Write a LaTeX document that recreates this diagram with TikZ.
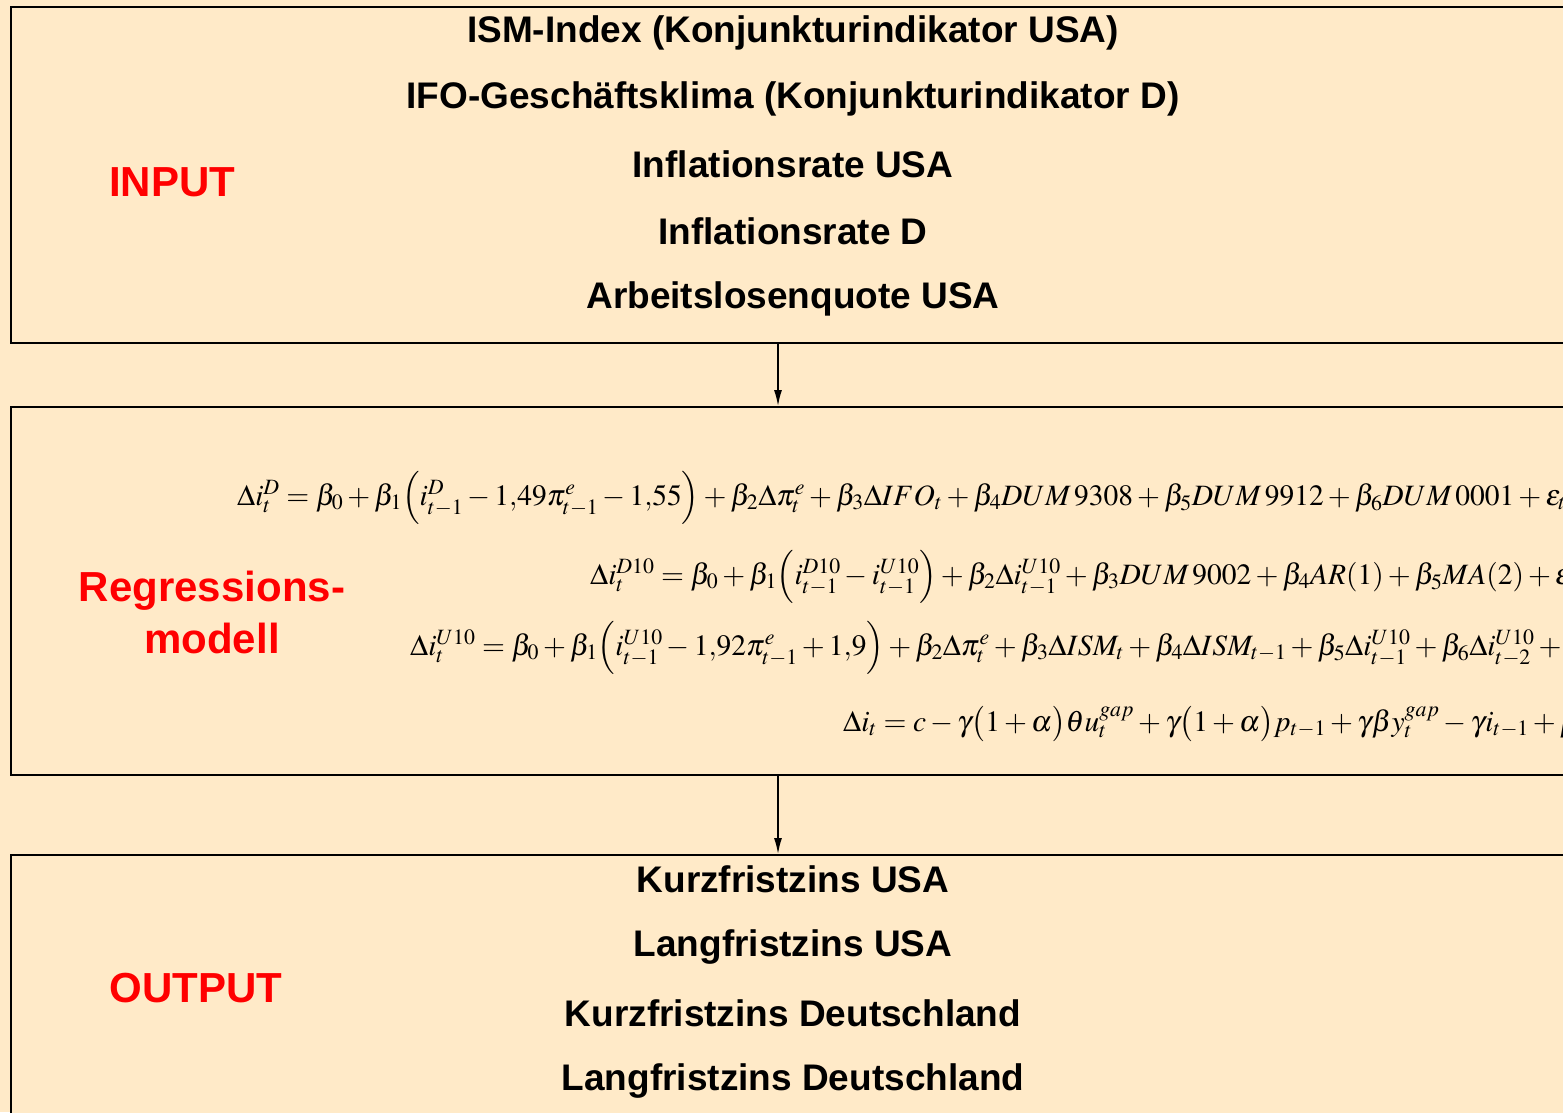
\documentclass[tikz,border=0pt]{standalone}
\usepackage{mathptmx}
\usepackage[no-math]{fontspec}
\setmainfont{Liberation Sans}
\usetikzlibrary{arrows.meta}
\definecolor{peach}{RGB}{255,234,200}
\definecolor{labelred}{RGB}{255,0,0}
\tikzset{
  block/.style={draw=black,line width=2pt,fill=peach,anchor=north west,minimum width=1640pt,inner sep=0pt},
  item/.style={font=\fontsize{37}{44}\selectfont\bfseries,inner sep=0pt},
  tag/.style={font=\fontsize{42}{52}\selectfont\bfseries,text=labelred,align=center,inner sep=0pt},
  eqn/.style={font=\fontsize{29.5}{36}\selectfont,anchor=west,inner sep=0pt},
  flow/.style={line width=1.5pt,-{Latex[length=16pt,width=8pt]}}
}
\begin{document}
\begin{tikzpicture}[x=1pt,y=-1pt]
\fill[peach] (0,0) rectangle (1563,1112);
\clip (0,0) rectangle (1563,1112);
% boxes
\node[block,minimum height=336pt] (inbox) at (9.5,6) {};
\node[block,minimum height=368pt] (regbox) at (9.5,406) {};
\node[block,minimum height=300pt] (outbox) at (9.5,854) {};
\coordinate (mid) at (778,0);
\draw[flow] (inbox.south -| mid) -- (regbox.north -| mid);
\draw[flow] (regbox.south -| mid) -- (outbox.north -| mid);
% input
\node[tag] (intag) at (172,182) {INPUT};
\node[item] (ism) at (793,33) {ISM-Index (Konjunkturindikator USA)};
\node[item] (ifo) at (793,99) {IFO-Geschäftsklima (Konjunkturindikator D)};
\node[item] (infus) at (793,164) {Inflationsrate USA};
\node[item] (infd) at (793,231) {Inflationsrate D};
\node[item] (alq) at (793,299) {Arbeitslosenquote USA};
% model
\node[tag] (regtag) at (212,612) {Regressions-\\modell};
\node[eqn] (eqa) at (237,498) {$\Delta i_t^D=\beta_0+\beta_1\Bigl(i_{t-1}^D-1{,}49\pi_{t-1}^e-1{,}55\Bigr)+\beta_2\Delta\pi_t^e+\beta_3\Delta IFO_t+\beta_4DUM\,9308+\beta_5DUM\,9912+\beta_6DUM\,0001+\varepsilon_t$};
\node[eqn] (eqb) at (590,577) {$\Delta i_t^{D10}=\beta_0+\beta_1\Bigl(i_{t-1}^{D10}-i_{t-1}^{U10}\Bigr)+\beta_2\Delta i_{t-1}^{U10}+\beta_3DUM\,9002+\beta_4AR(1)+\beta_5MA(2)+\varepsilon_t$};
\node[eqn] (eqc) at (410,648) {$\Delta i_t^{U10}=\beta_0+\beta_1\Bigl(i_{t-1}^{U10}-1{,}92\pi_{t-1}^e+1{,}9\Bigr)+\beta_2\Delta\pi_t^e+\beta_3\Delta ISM_t+\beta_4\Delta ISM_{t-1}+\beta_5\Delta i_{t-1}^{U10}+\beta_6\Delta i_{t-2}^{U10}+\varepsilon_t$};
\node[eqn] (eqd) at (843,724) {$\medmuskip=2.5mu\thickmuskip=4mu\Delta i_t=c-\gamma\bigl(1+\alpha\bigr)\theta u_t^{gap}+\gamma\bigl(1+\alpha\bigr)p_{t-1}+\gamma\beta y_t^{gap}-\gamma i_{t-1}+\rho\Delta i_{t-1}$};
% output
\node[tag] (outtag) at (196,988) {OUTPUT};
\node[item] (kus) at (793,879) {Kurzfristzins USA};
\node[item] (lus) at (793,947) {Langfristzins USA};
\node[item] (kd) at (793,1013) {Kurzfristzins Deutschland};
\node[item] (ld) at (793,1081) {Langfristzins Deutschland};
\end{tikzpicture}
\end{document}
